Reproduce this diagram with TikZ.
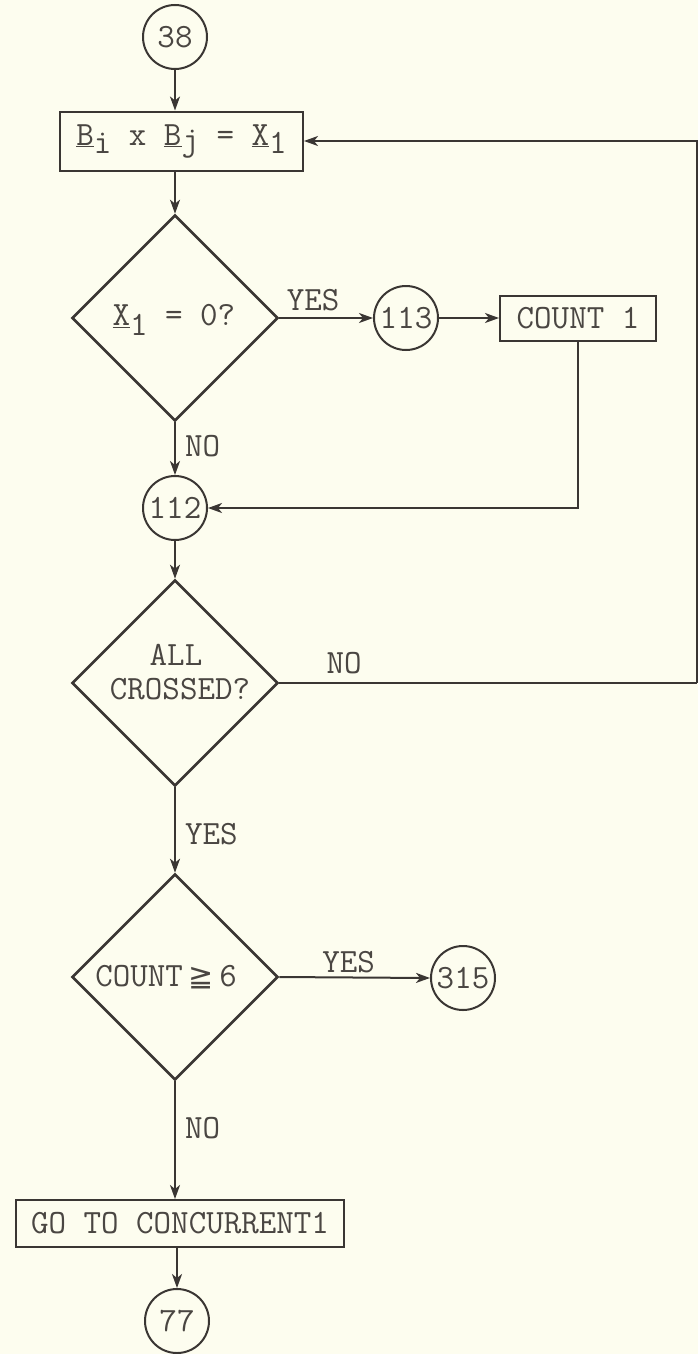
\documentclass[tikz,border=0pt]{standalone}
\usepackage{fontspec}
\newfontfamily\symfont{DejaVu Sans}
\usetikzlibrary{arrows.meta,shapes.geometric}
\definecolor{paper}{HTML}{FDFDEF}
\definecolor{ink}{HTML}{3A3633}
\definecolor{typeink}{HTML}{4A4642}
\begin{document}
\begin{tikzpicture}[x=1pt,y=-1pt,
  every node/.style={font=\ttfamily\fontsize{34}{29}\selectfont, text=typeink},
  conn/.style={draw=ink, line width=2pt, -{Stealth[length=14pt,width=10pt,inset=4pt]}},
  plain/.style={draw=ink, line width=2pt},
  term/.style={circle, draw=ink, line width=2pt, minimum size=64pt, inner sep=0pt},
  proc/.style={rectangle, draw=ink, line width=2pt, minimum height=46pt, inner sep=0pt},
  dec/.style={diamond, draw=ink, line width=2.6pt, minimum width=206pt, minimum height=206pt, inner sep=0pt},
  lbl/.style={inner sep=0pt}
]
\fill[paper] (0,0) rectangle (698,1354);
\useasboundingbox (0,0) rectangle (698,1354);

\node[term] (c38) at (175,37) {38};
\node[proc, minimum width=243pt, minimum height=59pt] (box1) at (181.5,141)
  {\underline{B}\raisebox{-8pt}{i} x \underline{B}\raisebox{-5pt}{j} = \underline{X}\raisebox{-8pt}{1}};
\node[dec] (d1) at (175,318) {};
\node[lbl] (t1) at (174,320) {\underline{X}\raisebox{-10pt}{1} = 0?};
\node[term] (c113) at (406,318) {113};
\node[proc, minimum width=156pt, minimum height=45pt] (count1) at (578,318) {COUNT 1};
\node[term] (c112) at (175,508) {112};
\node[dec] (d2) at (175,683) {};
\node[lbl] (t2a) at (176,655) {ALL};
\node[lbl] (t2b) at (180,689) {CROSSED?};
\node[dec] (d3) at (175,977) {};
\node[lbl] (t3) at (166,977) {COUNT\,{\symfont\fontsize{30}{30}\selectfont ≧}\,6};
\node[term] (c315) at (463,978) {315};
\node[proc, minimum width=328pt, minimum height=47pt] (go) at (180,1223.5) {GO TO CONCURRENT1};
\node[term] (c77) at (177,1321) {77};
\coordinate (ret) at (697,683);

\draw[conn] (c38) -- (c38 |- box1.north);
\draw[conn] (d1.north |- box1.south) -- (d1.north);
\draw[conn] (d1.east) -- node[lbl, above=6pt, pos=0.36] {YES} (c113.west);
\draw[conn] (c113.east) -- (count1.west);
\draw[conn] (count1.south) |- (c112.east);
\draw[conn] (d1.south) -- node[lbl, right=9pt, pos=0.46] {NO} (c112.north);
\draw[conn] (c112.south) -- (d2.north);
\draw[plain] (d2.east) -- node[lbl, above=8pt, pos=0.155] {NO} (ret);
\draw[conn] (ret) |- (box1.east);
\draw[conn] (d2.south) -- node[lbl, right=9pt, pos=0.55] {YES} (d3.north);
\draw[conn] (d3.east) -- node[lbl, above=4pt, pos=0.46] {YES} (c315.west);
\draw[conn] (d3.south) -- node[lbl, right=9pt, pos=0.40] {NO} (d3.south |- go.north);
\draw[conn] (c77 |- go.south) -- (c77);
\end{tikzpicture}
\end{document}
